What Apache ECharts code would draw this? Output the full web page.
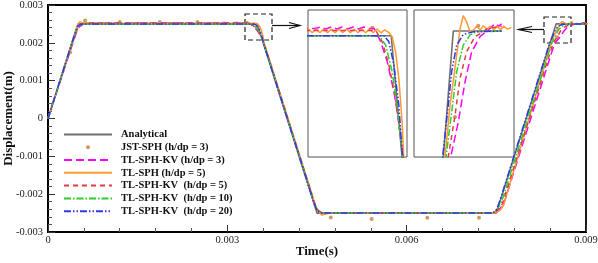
<!DOCTYPE html>
<html>
<head>
<meta charset="utf-8">
<script src="https://cdn.jsdelivr.net/npm/echarts@6/dist/echarts.min.js"></script>
<style>html,body{margin:0;padding:0;background:#fff}#c{width:598px;height:263px}</style>
</head>
<body>
<div id="c"></div>
<script>
// ---- data (time in s, displacement in m) ----
const SERIES_NAMES = ['Analytical', 'JST-SPH (h/dp = 3)', 'TL-SPH-KV (h/dp = 3)', 'TL-SPH (h/dp = 5)',
  'TL-SPH-KV  (h/dp = 5)', 'TL-SPH-KV  (h/dp = 10)', 'TL-SPH-KV  (h/dp = 20)'];
const X_TICKS = [0, 0.003, 0.006, 0.009];
const Y_TICKS = [-0.003, -0.002, -0.001, 0, 0.001, 0.002, 0.003];

const analytical = [[0,0],[0.0005,0.0025],[0.0035,0.0025],[0.0045,-0.0025],[0.0075,-0.0025],[0.0085,0.0025],[0.009,0.0025]];

const jstSph = [[0.00037,0.00175],[0.00062,0.00259],[0.0012,0.00255],[0.00187,0.00255],[0.0025,0.00255],
  [0.003327,0.002533],[0.00473,-0.00262],[0.005415,-0.002656],[0.006345,-0.002622],[0.00721,-0.002622],
  [0.008518,0.002147],[0.008758,0.002522]];

const kv3 = [[0,0],[0.0004,0.00192],[0.00048,0.0023],[0.00053,0.00243],[0.0006,0.0025],[0.0007,0.00253],
  [0.0028,0.00253],[0.00285,0.002536],[0.0029,0.002528],[0.00295,0.002536],[0.003,0.002528],[0.00305,0.002536],
  [0.0031,0.002528],[0.00315,0.002536],[0.0032,0.002528],[0.00325,0.002536],[0.0033,0.00253],
  [0.003343,0.00253],[0.003404,0.002475],[0.003464,0.002393],[0.003525,0.00227],[0.00357,0.002146],[0.003606,0.002002],
  [0.00448,-0.00237],[0.00453,-0.00246],[0.0046,-0.0025],[0.0074,-0.0025],[0.00747,-0.00248],[0.00754,-0.00241],
  [0.00762,-0.00228],[0.008473,0.001983],[0.008552,0.002127],[0.008621,0.002291],[0.00869,0.002415],
  [0.008776,0.002477],[0.008879,0.002511],[0.00893,0.00253],[0.00897,0.00252],[0.009,0.00253]];

const tl5 = [[0,0],[0.0004,0.002],[0.00047,0.00236],[0.0005,0.00248],[0.00053,0.00256],[0.00057,0.00254],[0.0006,0.00252],
  [0.001,0.00252],[0.002,0.00252],[0.0027,0.00252],
  [0.00274,0.002528],[0.002775,0.002512],[0.00281,0.002528],[0.002845,0.002512],[0.00288,0.002528],[0.002915,0.002512],
  [0.00295,0.002528],[0.002985,0.002512],[0.00302,0.002528],[0.003055,0.002512],[0.00309,0.002528],[0.003125,0.002512],
  [0.00316,0.002528],[0.003195,0.002512],[0.00323,0.002528],[0.003265,0.002512],[0.0033,0.002528],[0.003335,0.002512],
  [0.00337,0.002528],[0.003405,0.002512],[0.00344,0.002524],[0.003475,0.002514],
  [0.003509,0.002496],[0.00354,0.002434],[0.00357,0.002325],[0.0036,0.002146],[0.003615,0.002002],
  [0.00448,-0.00232],[0.00452,-0.00245],[0.00458,-0.00255],[0.00464,-0.00253],[0.0047,-0.0025],
  [0.00745,-0.0025],[0.0075,-0.00249],[0.00756,-0.00243],[0.00762,-0.0023],
  [0.008414,0.001983],[0.008466,0.002195],[0.008535,0.002401],[0.00857,0.00251],[0.008603,0.002563],[0.008635,0.00254],
  [0.008673,0.002497],[0.0087,0.0025],[0.00874,0.00252],[0.00878,0.002505],[0.00881,0.002522],[0.00885,0.002506],
  [0.00888,0.00252],[0.00892,0.002505],[0.00895,0.00252],[0.00899,0.002506],[0.00902,0.00252],[0.00906,0.002508],[0.0091,0.002515]];

const kv5 = [[0,0],[0.0004,0.00195],[0.00048,0.00232],[0.00052,0.00244],[0.00058,0.0025],[0.00065,0.002522],
  [0.003358,0.002522],[0.003418,0.002475],[0.003479,0.002379],[0.00354,0.002242],[0.003579,0.002105],[0.003609,0.002002],
  [0.00447,-0.00229],[0.00452,-0.00243],[0.00458,-0.00249],[0.00465,-0.0025],[0.0074,-0.0025],[0.00746,-0.00248],
  [0.00753,-0.0024],[0.0076,-0.00226],[0.008448,0.001983],[0.008518,0.002154],[0.008569,0.002305],[0.008638,0.002415],
  [0.008724,0.002477],[0.00881,0.002497],[0.00885,0.00251],[0.009,0.00252]];

const kv10 = [[0,0],[0.0004,0.00198],[0.00047,0.00232],[0.00051,0.00244],[0.00056,0.00249],[0.00062,0.0025],
  [0.003388,0.0025],[0.003449,0.002462],[0.003509,0.002352],[0.003561,0.002187],[0.003604,0.002002],
  [0.00446,-0.00228],[0.00451,-0.00244],[0.00457,-0.00249],[0.00462,-0.0025],[0.0074,-0.0025],[0.00746,-0.00247],
  [0.00752,-0.00238],[0.00758,-0.00224],[0.008425,0.001983],[0.008483,0.002168],[0.008535,0.002333],[0.008603,0.002442],
  [0.008673,0.002484],[0.008742,0.002497],[0.009,0.0025]];

const kv20 = [[0,0],[0.0004,0.002],[0.00047,0.00234],[0.0005,0.00244],[0.00054,0.00249],[0.0006,0.0025],
  [0.003434,0.0025],[0.003479,0.002475],[0.003525,0.002379],[0.00357,0.002215],[0.003604,0.002002],
  [0.00444,-0.00218],[0.0045,-0.00244],[0.00455,-0.00249],[0.0046,-0.0025],[0.0074,-0.0025],[0.00745,-0.00248],
  [0.0075,-0.00243],[0.00756,-0.00217],[0.00839,0.001983],[0.008448,0.0021955],[0.008483,0.002333],[0.008535,0.002442],
  [0.008603,0.002486],[0.008707,0.002497],[0.009,0.0025]];

// zoomed windows of the two insets
const INSET1_T = [0.002736, 0.003645], INSET1_V = [0.002002, 0.0026058];
const INSET2_T = [0.008094, 0.009127], INSET2_V = [0.0019827, 0.0025864];

// ---- chart ----
const SERIF = 'Liberation Serif';
const styles = [
  {data: analytical, color: '#707070', type: 'solid', w: 1.6},
  {data: jstSph, color: '#c8803a', scatter: true},
  {data: kv3, color: '#ff00ff', type: [8, 4], w: 1.5},
  {data: tl5, color: '#ff9933', type: 'solid', w: 1.5},
  {data: kv5, color: '#e23c3c', type: [5, 4], w: 1.5},
  {data: kv10, color: '#2ecc2e', type: [7, 2, 1.5, 2], w: 1.5},
  {data: kv20, color: '#2a3ae8', type: [7, 2, 1.5, 2, 1.5, 2], w: 1.5}
];
const series = [];
[0, 1, 2].forEach(function (gi) {
  styles.forEach(function (s, i) {
    if (s.scatter) {
      series.push({type: 'scatter', name: SERIES_NAMES[i], xAxisIndex: gi, yAxisIndex: gi, data: s.data,
        symbol: 'circle', symbolSize: 4, itemStyle: {color: s.color}, silent: true});
    } else {
      series.push({type: 'line', name: SERIES_NAMES[i], xAxisIndex: gi, yAxisIndex: gi, data: s.data,
        showSymbol: false, symbol: 'none', clip: true, silent: true,
        lineStyle: {color: s.color, width: s.w, type: s.type}, itemStyle: {color: s.color}});
    }
  });
});

const legendData = SERIES_NAMES.map(function (n, i) {
  return styles[i].scatter ? {name: n} : {name: n, itemStyle: {opacity: 0}};
});

const mainAxisCommon = {
  axisLine: {show: true, onZero: false, lineStyle: {color: '#000', width: 2}},
  axisTick: {show: true, inside: true, length: 7, lineStyle: {color: '#333', width: 1}},
  minorTick: {show: true, splitNumber: 5, length: 4, lineStyle: {color: '#555', width: 1}},
  splitLine: {show: false},
  nameMoveOverlap: false,
  axisLabel: {fontFamily: SERIF, fontSize: 10.5, color: '#222'}
};

const hiddenAxis = function (r) { return {type: 'value', min: r[0], max: r[1], show: false}; };

const option = {
  animation: false,
  backgroundColor: '#fff',
  grid: [
    {left: 48, top: 5, width: 538, height: 227, show: true, borderColor: '#000', borderWidth: 1.8,
      containLabel: false, outerBoundsMode: 'none'},
    {left: 308, top: 10, width: 99, height: 147, show: true, borderColor: '#555', borderWidth: 1, backgroundColor: '#fff',
      containLabel: false, outerBoundsMode: 'none'},
    {left: 414, top: 10, width: 100, height: 147, show: true, borderColor: '#555', borderWidth: 1, backgroundColor: '#fff',
      containLabel: false, outerBoundsMode: 'none'}
  ],
  xAxis: [
    Object.assign({type: 'value', gridIndex: 0, min: X_TICKS[0], max: X_TICKS[X_TICKS.length - 1], interval: X_TICKS[1] - X_TICKS[0],
      name: 'Time(s)', nameLocation: 'middle', nameGap: 13,
      nameTextStyle: {fontFamily: SERIF, fontWeight: 'bold', fontSize: 13, color: '#111'}}, mainAxisCommon,
      {axisLabel: Object.assign({}, mainAxisCommon.axisLabel, {margin: 3})}),
    Object.assign(hiddenAxis(INSET1_T), {gridIndex: 1}),
    Object.assign(hiddenAxis(INSET2_T), {gridIndex: 2})
  ],
  yAxis: [
    Object.assign({type: 'value', gridIndex: 0, min: Y_TICKS[0], max: Y_TICKS[Y_TICKS.length - 1], interval: Y_TICKS[1] - Y_TICKS[0],
      name: 'Displacement(m)', nameLocation: 'middle', nameGap: 33,
      nameTextStyle: {fontFamily: SERIF, fontWeight: 'bold', fontSize: 13, color: '#111'}}, mainAxisCommon,
      {axisLabel: Object.assign({}, mainAxisCommon.axisLabel, {margin: 5})}),
    Object.assign(hiddenAxis(INSET1_V), {gridIndex: 1}),
    Object.assign(hiddenAxis(INSET2_V), {gridIndex: 2})
  ],
  legend: {
    orient: 'vertical', left: 63, top: 128, padding: 0, itemGap: 0,
    itemWidth: 48, itemHeight: 4, selectedMode: false,
    data: legendData,
    textStyle: {fontFamily: SERIF, fontWeight: 'bold', fontSize: 10.5, color: '#111', lineHeight: 12.8, padding: [0, 0, 0, 4]}
  },
  graphic: [
    {type: 'rect', shape: {x: 245, y: 14, width: 27, height: 26}, style: {fill: 'none', stroke: '#222', lineWidth: 1.2, lineDash: [5, 3]}},
    {type: 'rect', shape: {x: 544, y: 17, width: 27, height: 26}, style: {fill: 'none', stroke: '#222', lineWidth: 1.2, lineDash: [5, 3]}},
    {type: 'polyline', shape: {points: [[272, 25.5], [300, 25.5]]}, style: {stroke: '#111', lineWidth: 1.2, fill: 'none'}},
    {type: 'polyline', shape: {points: [[289, 22.5], [300, 25.5], [289, 28.5]]}, style: {stroke: '#111', lineWidth: 1.2, fill: 'none'}},
    {type: 'polyline', shape: {points: [[544, 29.5], [518.5, 29.5]]}, style: {stroke: '#111', lineWidth: 1.2, fill: 'none'}},
    {type: 'polyline', shape: {points: [[532, 26.5], [518.5, 29.5], [532, 32.5]]}, style: {stroke: '#111', lineWidth: 1.2, fill: 'none'}}
  ],
  series: series
};

const chart = echarts.init(document.getElementById('c'), null, {renderer: 'canvas'});
chart.setOption(option);
</script>
</body>
</html>
